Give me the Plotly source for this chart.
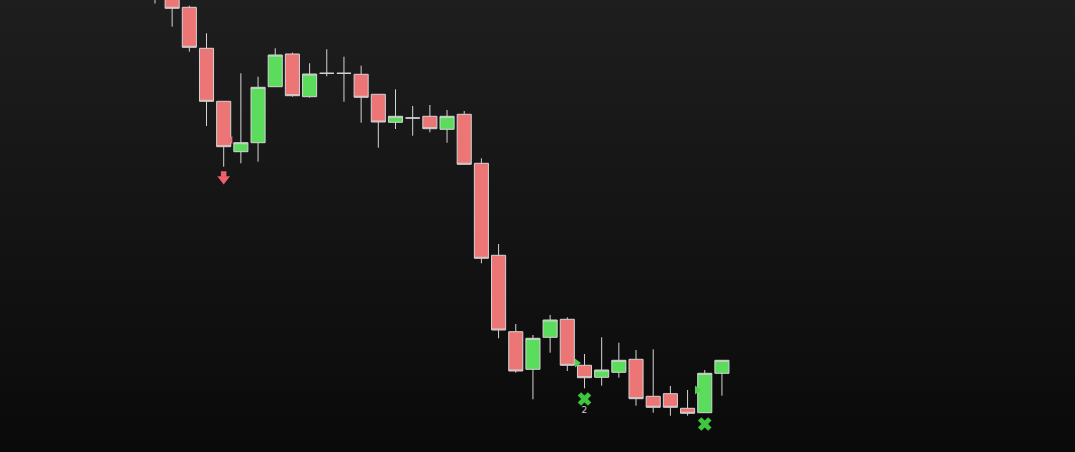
import base64
import plotly.graph_objects as go

# ---- data ----
idx = list(range(34))
opens = [151.8, 150.6, 149.27, 145.17, 139.87, 134.83, 135.73, 141.33, 144.6, 140.33,
         142.67, 142.67, 142.57, 140.57, 137.77, 138.2, 138.37, 137.07, 138.57, 133.67,
         124.47, 116.83, 113.07, 116.27, 118.07, 113.47, 112.27, 112.77, 114.07, 110.37,
         110.63, 109.17, 108.73, 112.67]
highs = [152.2, 150.8, 149.43, 146.67, 139.87, 142.67, 142.33, 145.17, 144.73, 143.67,
         145.07, 144.33, 143.43, 140.57, 141.07, 139.4, 139.5, 139.0, 138.9, 134.17,
         125.6, 117.6, 116.5, 118.5, 118.27, 114.6, 116.27, 115.73, 115.0, 115.07,
         111.4, 111.0, 113.0, 113.97]
lows = [149.65, 147.33, 144.83, 137.4, 133.33, 133.67, 133.83, 141.33, 140.33, 140.23,
        142.37, 139.83, 137.73, 135.23, 137.1, 136.43, 136.77, 135.73, 133.57, 123.67,
        116.17, 112.73, 110.07, 114.73, 112.9, 111.17, 111.43, 112.23, 109.43, 108.73,
        108.43, 108.43, 108.73, 110.43]
closes = [150.4, 149.17, 145.27, 139.87, 135.33, 135.73, 141.27, 144.5, 140.43, 142.6,
          142.67, 142.67, 140.27, 137.8, 138.37, 138.2, 137.13, 138.37, 133.57, 124.17,
          117.0, 112.9, 116.17, 118.0, 113.47, 112.23, 113.0, 113.97, 110.13, 109.27,
          109.27, 108.67, 112.67, 113.97]

sell_arrow_x = [4]
sell_arrow_stem_y = [132.6]
sell_arrow_head_y = [132.1]
sell_tri_x = [4.4]
sell_tri_y = [136.0]
buy_tri_x = [24.56, 31.55]
buy_tri_y = [113.7, 111.0]
cross_x = [25, 32]
cross_y = [110.1, 107.6]
label_x = [25]
label_y = [108.9]
label_text = ["2"]

y_range = [104.8, 150.0]
x_range = [-9.02, 53.55]

# ---- figure ----
fig = go.Figure()
fig.add_trace(go.Candlestick(
    x=idx, open=opens, high=highs, low=lows, close=closes,
    increasing=dict(line=dict(color="#d4d4d4", width=1), fillcolor="#5cdc5c"),
    decreasing=dict(line=dict(color="#d4d4d4", width=1), fillcolor="#ec7676"),
    whiskerwidth=0, showlegend=False, hoverinfo="skip",
))
red = "#f0606c"
fig.add_trace(go.Scatter(x=sell_arrow_x, y=sell_arrow_stem_y, mode="markers",
                         marker=dict(symbol="square", size=5.5, color=red,
                                     line=dict(width=0)), showlegend=False))
fig.add_trace(go.Scatter(x=sell_arrow_x, y=sell_arrow_head_y, mode="markers",
                         marker=dict(symbol="triangle-down", size=11, color=red,
                                     line=dict(width=0)), showlegend=False))
fig.add_trace(go.Scatter(x=sell_tri_x, y=sell_tri_y, mode="markers",
                         marker=dict(symbol="triangle-left", size=7, color="#ee7080",
                                     line=dict(width=0)), showlegend=False))
fig.add_trace(go.Scatter(x=buy_tri_x, y=buy_tri_y, mode="markers",
                         marker=dict(symbol="triangle-right", size=8, color="#4fd04f",
                                     line=dict(width=0)), showlegend=False))
fig.add_trace(go.Scatter(x=cross_x, y=cross_y, mode="markers",
                         marker=dict(symbol="x", size=12, color="#3ec63e",
                                     line=dict(width=0)), showlegend=False))
fig.add_trace(go.Scatter(x=label_x, y=label_y, mode="text", text=label_text,
                         textfont=dict(family="DejaVu Sans", size=9, color="#d0d0d0"),
                         showlegend=False))

svg = ('<svg xmlns="http://www.w3.org/2000/svg" width="100" height="100" preserveAspectRatio="none">'
       '<defs><linearGradient id="g" x1="0" y1="0" x2="0" y2="1">'
       '<stop offset="0" stop-color="#1e1e1e"/><stop offset="1" stop-color="#0a0a0a"/>'
       '</linearGradient></defs><rect width="100" height="100" fill="url(#g)"/></svg>')
bg_src = "data:image/svg+xml;base64," + base64.b64encode(svg.encode()).decode()

fig.update_layout(
    width=1075, height=452,
    margin=dict(l=0, r=0, t=0, b=0),
    paper_bgcolor="#141414", plot_bgcolor="rgba(0,0,0,0)",
    boxgap=0.18, boxgroupgap=0,
    images=[dict(source=bg_src, xref="paper", yref="paper", x=0, y=1,
                 sizex=1, sizey=1, sizing="stretch", layer="below",
                 xanchor="left", yanchor="top")],
    xaxis=dict(range=x_range, visible=False, rangeslider=dict(visible=False),
               showgrid=False, zeroline=False, fixedrange=True),
    yaxis=dict(range=y_range, visible=False, showgrid=False, zeroline=False),
    hovermode=False,
)
fig.write_html("out.html", config={"displayModeBar": False},
               post_script="document.body.style.margin='0';document.body.style.background='#0a0a0a';")
